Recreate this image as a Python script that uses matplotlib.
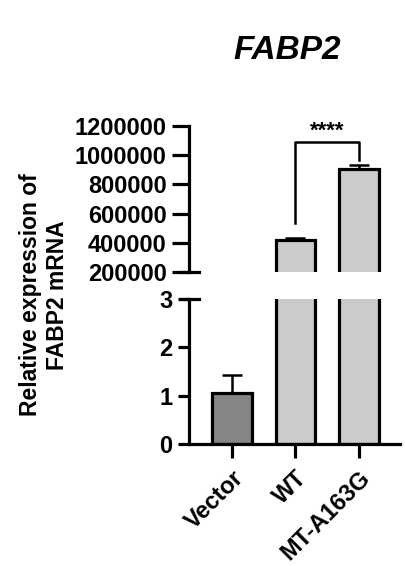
import numpy as np
import matplotlib
matplotlib.use("Agg")
import matplotlib.pyplot as plt

plt.rcParams['font.family'] = ['Liberation Sans', 'DejaVu Sans']
plt.rcParams['font.weight'] = 'bold'

groups = ["Vector", "WT", "MT-A163G"]
means = [1.05, 420000, 905000]
errs_up = [0.37, 15000, 28000]
fills = ["#858585", "#cbcbcd", "#cbcbcd"]
top_ticks = [200000, 400000, 600000, 800000, 1000000, 1200000]
bottom_ticks = [0, 1, 2, 3]
sig_pair = (1, 2)
sig_text = "****"

x = np.arange(len(groups))
lw = 2.3

fig = plt.figure(figsize=(4.05, 5.66), dpi=100)
ax_top = fig.add_axes([0.4667, 0.5194, 0.521, 0.258])
ax_bot = fig.add_axes([0.4667, 0.2155, 0.521, 0.2562])

for ax in (ax_top, ax_bot):
    ax.bar(x, means, width=0.63, color=fills, edgecolor="black", linewidth=lw, zorder=2)
    ax.errorbar(x, means, yerr=[np.zeros(len(means)), errs_up], fmt="none",
                ecolor="black", elinewidth=1.8, capsize=7.5, capthick=1.8, zorder=1)
    ax.set_xlim(-0.68, 2.65)
    ax.spines["top"].set_visible(False)
    ax.spines["right"].set_visible(False)
    ax.spines["left"].set_linewidth(lw)
    ax.spines["bottom"].set_linewidth(lw)

# upper part of the broken axis
ax_top.set_ylim(200000, 1200000)
ax_top.set_yticks(top_ticks)
ax_top.set_yticklabels([str(t) for t in top_ticks], fontsize=17, fontweight="bold")
ax_top.spines["bottom"].set_visible(False)
ax_top.tick_params(axis="x", bottom=False, labelbottom=False)
ax_top.tick_params(axis="y", length=12, width=lw, pad=4)
ax_top.plot([-0.04, 0.045], [0, 0], color="black", lw=lw, transform=ax_top.transAxes, clip_on=False)

# lower part
ax_bot.set_ylim(0, 3)
ax_bot.set_yticks(bottom_ticks)
ax_bot.set_yticklabels([str(t) for t in bottom_ticks], fontsize=17, fontweight="bold")
ax_bot.tick_params(axis="y", length=8, width=lw, pad=4)
ax_bot.tick_params(axis="x", length=10, width=lw, pad=6)
ax_bot.set_xticks(x)
ax_bot.set_xticklabels(groups, rotation=45, ha="right", rotation_mode="anchor",
                       fontsize=17, fontweight="bold")
ax_bot.plot([-0.04, 0.045], [1, 1], color="black", lw=lw, transform=ax_bot.transAxes, clip_on=False)

# significance bracket
i, j = sig_pair
y_bar = 1090000
ax_top.plot([x[i], x[i], x[j], x[j]], [535000, y_bar, y_bar, 967000],
            color="black", lw=1.8, clip_on=False)
ax_top.text((x[i] + x[j]) / 2, 1165000, sig_text, ha="center", va="center",
            fontsize=16, fontweight="bold")

fig.text(0.71, 0.91, "FABP2", ha="center", va="center", fontsize=24,
         fontweight="bold", fontstyle="italic")
fig.text(0.109, 0.479, "Relative expression of\nFABP2 mRNA", rotation=90,
         ha="center", va="center", fontsize=16.5, fontweight="bold", linespacing=1.2)

fig.savefig("out.png", dpi=100)
